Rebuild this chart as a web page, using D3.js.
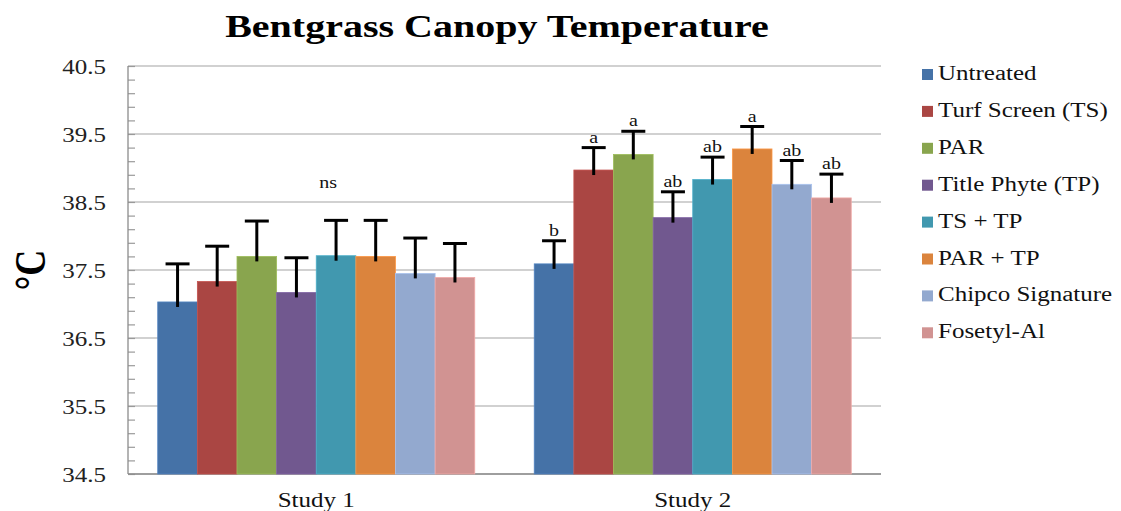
<!DOCTYPE html>
<html>
<head>
<meta charset="utf-8">
<script src="https://cdn.jsdelivr.net/npm/d3@7"></script>
<style>
  html, body { margin: 0; padding: 0; background: #fff; }
  svg { display: block; }
  text { font-family: "Liberation Serif", "Times New Roman", serif; fill: #111; }
</style>
</head>
<body>
<svg id="chart" width="1121" height="511"></svg>
<script>
// Canopy temperature (°C) per treatment, two studies
const studies = ["Study 1", "Study 2"];
const treatments = ["Untreated", "Turf Screen (TS)", "PAR", "Title Phyte (TP)",
                    "TS + TP", "PAR + TP", "Chipco Signature", "Fosetyl-Al"];
const colors = ["#4572A7", "#AA4643", "#89A54E", "#71588F",
                "#4198AF", "#DB843D", "#93A9CF", "#D19392"];

const study1Means = [37.03, 37.33, 37.70, 37.17, 37.71, 37.70, 37.45, 37.39];
const study1Err   = [0.56, 0.52, 0.52, 0.51, 0.52, 0.53, 0.52, 0.50];
const study2Means = [37.59, 38.97, 39.20, 38.27, 38.83, 39.28, 38.76, 38.56];
const study2Err   = [0.34, 0.33, 0.34, 0.38, 0.33, 0.33, 0.35, 0.35];
const study2Letters = ["b", "a", "a", "ab", "ab", "a", "ab", "ab"];
const study1Note = "ns";
const study1NoteLevel = 38.7;

const yTicks = [34.5, 35.5, 36.5, 37.5, 38.5, 39.5, 40.5];
const yMinorTicks = d3.range(0, 31).map(i => +(34.5 + i * 0.2).toFixed(1));

const rows = [
  { study: studies[0], means: study1Means, err: study1Err, letters: null },
  { study: studies[1], means: study2Means, err: study2Err, letters: study2Letters }
];

// Layout
const W = 1121, H = 511;
const plot = { left: 128, right: 881, top: 66, bottom: 474 };
const SX = 1.25; // horizontal stretch of the serif lettering

const svg = d3.select("#chart");

const x0 = d3.scaleBand().domain(studies)
  .range([plot.left, plot.right]).paddingInner(0.158).paddingOuter(0.079);
const x1 = d3.scaleBand().domain(treatments).range([0, x0.bandwidth()]);
const y = d3.scaleLinear().domain([34.5, 40.5]).range([plot.bottom, plot.top]);

function stretchText(sel, x, yPos, extra) {
  sel.attr("x", 0).attr("y", 0)
     .attr("transform", `translate(${x},${yPos}) scale(${SX},1)` + (extra || ""));
}

// Title
svg.append("text")
  .text("Bentgrass Canopy Temperature")
  .attr("text-anchor", "middle")
  .style("font-size", "32px").style("font-weight", "bold").style("fill", "#000")
  .call(stretchText, 497, 37);

// Gridlines
svg.append("g")
  .selectAll("line").data(yTicks).join("line")
  .attr("x1", plot.left).attr("x2", plot.right)
  .attr("y1", d => y(d)).attr("y2", d => y(d))
  .attr("stroke", "#a3a3a3").attr("stroke-width", 1.2);

// Minor ticks on the value axis (pointing into the plot)
const minorAxis = svg.append("g")
  .attr("transform", `translate(${plot.left},0)`)
  .call(d3.axisRight(y).tickValues(yMinorTicks).tickSize(7).tickFormat(""));
minorAxis.select(".domain").remove();
minorAxis.selectAll("line").attr("stroke", "#9a9a9a").attr("stroke-width", 1.2);

// Value axis labels
const yAxis = svg.append("g")
  .attr("transform", `translate(${plot.left},0)`)
  .call(d3.axisLeft(y).tickValues(yTicks).tickSize(0).tickFormat(d3.format(".1f")));
yAxis.select(".domain").remove();
yAxis.selectAll(".tick text")
  .style("font-size", "20px").style("fill", "#222")
  .attr("dy", "0.35em")
  .each(function () {
    d3.select(this).attr("x", 0).attr("transform", `translate(-22,0) scale(${SX},1)`);
  });

// Axis lines
svg.append("line")
  .attr("x1", plot.left).attr("x2", plot.left)
  .attr("y1", plot.top).attr("y2", plot.bottom)
  .attr("stroke", "#8c8c8c").attr("stroke-width", 1.3);
svg.append("line")
  .attr("x1", plot.left).attr("x2", plot.right)
  .attr("y1", plot.bottom).attr("y2", plot.bottom)
  .attr("stroke", "#8c8c8c").attr("stroke-width", 1.3);

// Y axis title
svg.append("text")
  .text("°C")
  .attr("text-anchor", "middle")
  .style("font-size", "36px").style("font-weight", "bold").style("fill", "#000")
  .call(stretchText, 45, 270, " rotate(-90)");

// Bars, error bars, letters
const groups = svg.append("g").selectAll("g").data(rows).join("g")
  .attr("transform", d => `translate(${x0(d.study)},0)`);

groups.each(function (row) {
  const g = d3.select(this);
  const items = treatments.map((t, i) => ({
    t, i, v: row.means[i], e: row.err[i], lab: row.letters ? row.letters[i] : null
  }));

  g.selectAll("rect").data(items).join("rect")
    .attr("x", d => x1(d.t))
    .attr("width", x1.bandwidth())
    .attr("y", d => y(d.v))
    .attr("height", d => y(34.5) - y(d.v))
    .attr("fill", d => colors[d.i])
    .attr("stroke", d => d3.color(colors[d.i]).brighter(0.4))
    .attr("stroke-width", 0.8);

  const eb = g.selectAll("g.err").data(items).join("g").attr("class", "err");
  eb.append("line")
    .attr("x1", d => x1(d.t) + x1.bandwidth() / 2)
    .attr("x2", d => x1(d.t) + x1.bandwidth() / 2)
    .attr("y1", d => y(d.v) + 5)
    .attr("y2", d => y(d.v + d.e))
    .attr("stroke", "#000").attr("stroke-width", 3);
  eb.append("line")
    .attr("x1", d => x1(d.t) + x1.bandwidth() / 2 - 12)
    .attr("x2", d => x1(d.t) + x1.bandwidth() / 2 + 12)
    .attr("y1", d => y(d.v + d.e))
    .attr("y2", d => y(d.v + d.e))
    .attr("stroke", "#000").attr("stroke-width", 3);

  if (row.letters) {
    g.selectAll("text.sig").data(items).join("text")
      .attr("class", "sig")
      .text(d => d.lab)
      .attr("text-anchor", "middle")
      .style("font-size", "16px")
      .each(function (d) {
        d3.select(this).call(stretchText, x1(d.t) + x1.bandwidth() / 2, y(d.v + d.e) - 5);
      });
  } else {
    g.append("text")
      .text(study1Note)
      .attr("text-anchor", "middle")
      .style("font-size", "16px")
      .call(stretchText, x0.bandwidth() / 2 + 12, y(study1NoteLevel));
  }
});

// Category labels
svg.append("g").selectAll("text").data(studies).join("text")
  .text(d => d)
  .attr("text-anchor", "middle")
  .style("font-size", "20px").style("fill", "#111")
  .each(function (d) {
    d3.select(this).call(stretchText, x0(d) + x0.bandwidth() / 2, 507);
  });

// Legend
const legend = svg.append("g").attr("transform", "translate(922,0)");
const li = legend.selectAll("g").data(treatments).join("g")
  .attr("transform", (d, i) => `translate(0,${80 + i * 36.9})`);
li.append("rect")
  .attr("x", 0).attr("y", -11).attr("width", 11).attr("height", 11)
  .attr("fill", (d, i) => colors[i]);
li.append("text")
  .text(d => d)
  .style("font-size", "20px").style("fill", "#111")
  .each(function () { d3.select(this).call(stretchText, 16, 0); });
</script>
</body>
</html>
